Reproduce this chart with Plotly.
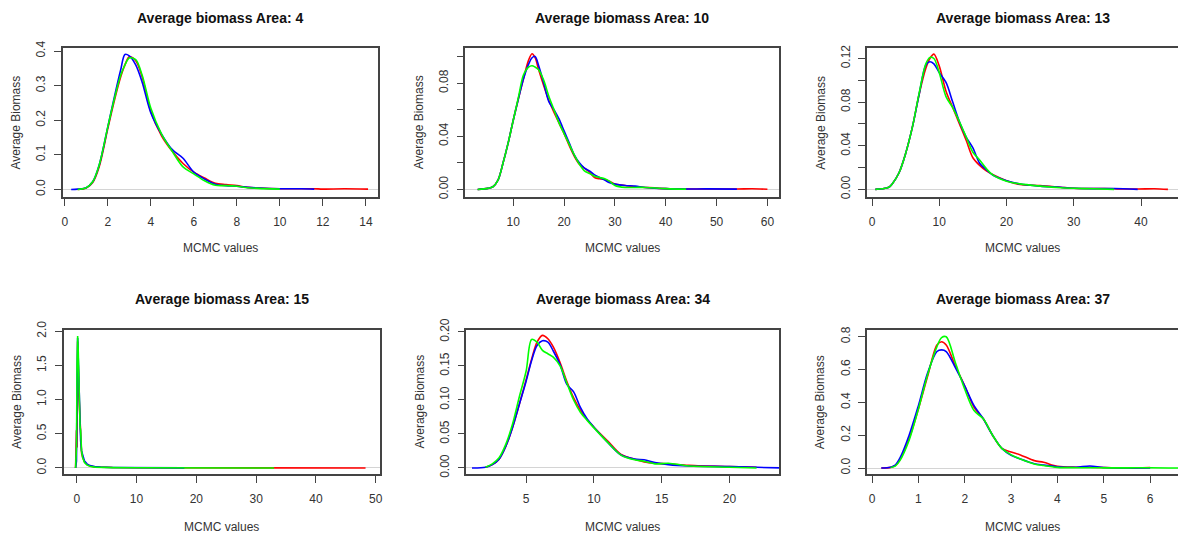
import plotly.graph_objects as go

# ---------------- DATA ----------------
titles = ["Average biomass Area: 4", "Average biomass Area: 10", "Average biomass Area: 13",
          "Average biomass Area: 15", "Average biomass Area: 34", "Average biomass Area: 37"]
x_label = "MCMC values"
y_label = "Average Biomass"

# Area 4
a4_x = [0.3, 0.6, 1.0, 1.3, 1.6, 2.0, 2.3, 2.6, 2.8, 3.0, 3.3, 3.6, 4.0, 4.5, 5.0, 5.5, 6.0, 6.5, 7.0, 7.5,
        8.0, 8.5, 9.0, 10.0, 11.0, 11.6, 12.0, 13.0, 14.1]
a4_red = [None, 0.0, 0.004, 0.02, 0.065, 0.175, 0.255, 0.325, 0.36, 0.383, 0.372, 0.325, 0.225, 0.155, 0.11,
          0.075, 0.05, 0.033, 0.018, 0.014, 0.011, 0.006, 0.004, 0.002, 0.002, 0.002, 0.001, 0.002, 0.001]
a4_blue = [0.0, 0.001, 0.005, 0.022, 0.07, 0.18, 0.265, 0.345, 0.39, 0.386, 0.36, 0.31, 0.222, 0.16, 0.115,
           0.09, 0.05, 0.03, 0.015, 0.011, 0.009, 0.006, 0.004, 0.002, 0.002, 0.001, None, None, None]
a4_green = [None, 0.0, 0.005, 0.022, 0.07, 0.18, 0.26, 0.33, 0.36, 0.38, 0.375, 0.33, 0.235, 0.16, 0.11,
            0.065, 0.045, 0.025, 0.012, 0.011, 0.009, 0.005, 0.003, 0.001, None, None, None, None, None]

# Area 10
a10_x = [3, 5, 6, 7, 8, 9, 10, 11, 12, 13, 13.7, 14.3, 15, 16, 17, 18, 19, 20, 21, 22, 23, 24, 25, 26, 27,
         28, 29, 30, 32, 34, 36, 40, 44, 48, 54, 57, 60]
a10_red = [0.0, 0.0008, 0.002, 0.007, 0.02, 0.035, 0.052, 0.068, 0.083, 0.097, 0.102, 0.099, 0.09, 0.078,
           0.067, 0.058, 0.05, 0.042, 0.033, 0.025, 0.019, 0.016, 0.013, 0.009, 0.008, 0.0075, 0.006, 0.004,
           0.003, 0.002, 0.0015, 0.0006, 0.0003, 0.0004, 0.0003, 0.0005, 0.0001]
a10_blue = [0.0, 0.0008, 0.002, 0.007, 0.02, 0.035, 0.052, 0.068, 0.083, 0.094, 0.099, 0.1, 0.093, 0.08,
            0.066, 0.06, 0.053, 0.044, 0.035, 0.026, 0.02, 0.016, 0.014, 0.011, 0.009, 0.007, 0.005, 0.004,
            0.003, 0.0025, 0.0015, 0.0006, 0.0003, 0.0004, 0.0002, None, None]
a10_green = [0.0, 0.0008, 0.002, 0.007, 0.02, 0.035, 0.052, 0.069, 0.086, 0.092, 0.093, 0.092, 0.09, 0.082,
             0.07, 0.06, 0.05, 0.042, 0.034, 0.026, 0.019, 0.014, 0.012, 0.01, 0.009, 0.008, 0.006, 0.003,
             0.0015, 0.0015, 0.0015, 0.0006, 0.0002, None, None, None, None]

# Area 13
a13_x = [0.5, 1.5, 2.5, 3, 4, 5, 6, 7, 8, 8.6, 9.2, 10, 11, 12, 13, 14, 15, 16, 17, 18, 20, 22, 25, 28, 30,
         33, 36, 39.5, 42, 44]
a13_red = [0.0, 0.0005, 0.002, 0.005, 0.015, 0.033, 0.057, 0.087, 0.111, 0.12, 0.124, 0.113, 0.09, 0.075,
           0.06, 0.045, 0.029, 0.022, 0.017, 0.0135, 0.008, 0.0045, 0.0035, 0.002, 0.001, 0.0008, 0.0005,
           0.0003, 0.0006, 0.0]
a13_blue = [0.0, 0.0005, 0.002, 0.005, 0.015, 0.033, 0.057, 0.087, 0.114, 0.117, 0.115, 0.107, 0.098, 0.08,
            0.062, 0.048, 0.038, 0.024, 0.018, 0.013, 0.008, 0.005, 0.003, 0.002, 0.001, 0.0007, 0.0008,
            0.0, None, None]
a13_green = [0.0, 0.0005, 0.002, 0.005, 0.015, 0.033, 0.057, 0.088, 0.115, 0.121, 0.12, 0.107, 0.085, 0.075,
             0.062, 0.048, 0.034, 0.027, 0.019, 0.013, 0.0075, 0.005, 0.003, 0.0015, 0.001, 0.0005, 0.0,
             None, None, None]

# Area 15
a15_x = [-0.2, -0.05, 0.05, 0.15, 0.25, 0.35, 0.45, 0.55, 0.65, 0.8, 1.0, 1.3, 1.7, 2.2, 3.0, 4.0, 6.0, 10,
         18, 25, 33, 40, 48.3]
a15_red = [0.0, 0.55, 0.3, 1.85, 1.5, 1.1, 0.9, 0.5, 0.35, 0.22, 0.15, 0.09, 0.05, 0.03, 0.015, 0.01, 0.006,
           0.004, 0.002, 0.001, 0.001, 0.001, 0.0]
a15_blue = [0.0, 0.1, 1.2, 1.9, 1.6, 1.25, 1.0, 0.55, 0.4, 0.25, 0.17, 0.1, 0.06, 0.035, 0.02, 0.012, 0.008,
            0.004, 0.002, None, None, None, None]
a15_green = [0.0, 0.3, 1.5, 1.93, 1.7, 1.2, 1.25, 0.6, 0.55, 0.25, 0.15, 0.08, 0.045, 0.025, 0.012, 0.008,
             0.005, 0.003, 0.001, 0.001, 0.0, None, None]

# Area 34
a34_x = [1.0, 2.0, 2.5, 3.0, 3.5, 4.0, 4.5, 5.0, 5.4, 5.8, 6.2, 6.6, 7.0, 7.5, 8.0, 8.5, 9.0, 9.5, 10.0, 11.0,
         12.0, 13.0, 13.7, 14.5, 15.5, 17.0, 20.0, 22.0, 24.0]
a34_red = [None, 0.001, 0.005, 0.013, 0.032, 0.06, 0.094, 0.13, 0.16, 0.185, 0.195, 0.19, 0.178, 0.155, 0.127,
           0.103, 0.085, 0.071, 0.06, 0.04, 0.02, 0.013, 0.009, 0.007, 0.006, 0.004, 0.002, 0.001, None]
a34_blue = [0.0, 0.001, 0.005, 0.013, 0.032, 0.06, 0.094, 0.128, 0.158, 0.18, 0.187, 0.185, 0.172, 0.152,
            0.123, 0.112, 0.089, 0.072, 0.06, 0.038, 0.019, 0.013, 0.012, 0.008, 0.005, 0.003, 0.002, 0.001, 0.0]
a34_green = [None, 0.001, 0.006, 0.015, 0.035, 0.065, 0.105, 0.143, 0.189, 0.185, 0.173, 0.168, 0.163, 0.15,
             0.125, 0.1, 0.082, 0.07, 0.059, 0.038, 0.019, 0.012, 0.01, 0.006, 0.007, 0.003, 0.001, 0.0, None]

# Area 37
a37_x = [0.2, 0.4, 0.5, 0.6, 0.8, 1.0, 1.2, 1.4, 1.5, 1.6, 1.8, 2.0, 2.2, 2.4, 2.6, 2.8, 3.0, 3.2, 3.5, 3.7,
         4.0, 4.4, 4.7, 5.0, 5.5, 6.0, 6.6]
a37_red = [0.0, 0.004, 0.014, 0.05, 0.18, 0.36, 0.56, 0.75, 0.77, 0.75, 0.62, 0.5, 0.37, 0.3, 0.2, 0.12, 0.098,
           0.08, 0.045, 0.035, 0.01, 0.005, 0.005, 0.003, 0.001, 0.003, None]
a37_blue = [0.0, 0.005, 0.018, 0.06, 0.2, 0.38, 0.58, 0.71, 0.72, 0.71, 0.61, 0.5, 0.38, 0.3, 0.2, 0.12, 0.078,
            0.055, 0.026, 0.018, 0.008, 0.005, 0.012, 0.003, 0.001, 0.0, None]
a37_green = [None, 0.003, 0.012, 0.045, 0.17, 0.36, 0.57, 0.74, 0.795, 0.8, 0.64, 0.48, 0.35, 0.3, 0.2, 0.12,
             0.08, 0.055, 0.025, 0.015, 0.004, 0.002, 0.002, 0.001, 0.001, 0.002, 0.0]

# tick values / labels
a4_xt = [0, 2, 4, 6, 8, 10, 12, 14]
a4_yt = [0.0, 0.1, 0.2, 0.3, 0.4]
a4_ytl = ["0.0", "0.1", "0.2", "0.3", "0.4"]
a10_xt = [10, 20, 30, 40, 50, 60]
a10_yt = [0.0, 0.02, 0.04, 0.06, 0.08, 0.10]
a10_ytl = ["0.00", "", "0.04", "", "0.08", ""]
a13_xt = [0, 10, 20, 30, 40]
a13_yt = [0.0, 0.02, 0.04, 0.06, 0.08, 0.10, 0.12]
a13_ytl = ["0.00", "", "0.04", "", "0.08", "", "0.12"]
a15_xt = [0, 10, 20, 30, 40, 50]
a15_yt = [0.0, 0.5, 1.0, 1.5, 2.0]
a15_ytl = ["0.0", "0.5", "1.0", "1.5", "2.0"]
a34_xt = [5, 10, 15, 20]
a34_yt = [0.0, 0.05, 0.10, 0.15, 0.20]
a34_ytl = ["0.00", "0.05", "0.10", "0.15", "0.20"]
a37_xt = [0, 1, 2, 3, 4, 5, 6]
a37_yt = [0.0, 0.2, 0.4, 0.6, 0.8]
a37_ytl = ["0.0", "0.2", "0.4", "0.6", "0.8"]

# ---------------- LAYOUT / STYLE ----------------
W, H = 1181, 535
colors = {"red": "#FF0000", "blue": "#0000FF", "green": "#00FF00"}
FONT = "Liberation Sans, Arial, Helvetica, sans-serif"

# row geometry in pixels: box top, box bottom, title y, x-label y
rows = [dict(t=37, b=191, title=6, xlab=243),
        dict(t=328, b=476, title=296, xlab=531)]

panels = [
    dict(x=a4_x, ys=[a4_red, a4_blue, a4_green], xt=a4_xt, yt=a4_yt, ytl=a4_ytl, row=0,
         lr=(62, 378), xr=[-0.09, 14.55], yr=[-0.0227, 0.409], shape="spline", mirror=True),
    dict(x=a10_x, ys=[a10_red, a10_blue, a10_green], xt=a10_xt, yt=a10_yt, ytl=a10_ytl, row=0,
         lr=(466, 781), xr=[0.59, 62.35], yr=[-0.0059, 0.1064], shape="spline", mirror=True),
    dict(x=a13_x, ys=[a13_red, a13_blue, a13_green], xt=a13_xt, yt=a13_yt, ytl=a13_ytl, row=0,
         lr=(869, 1181), xr=[-0.74, 45.5], yr=[-0.00726, 0.1297], shape="spline", mirror=False),
    dict(x=a15_x, ys=[a15_red, a15_blue, a15_green], xt=a15_xt, yt=a15_yt, ytl=a15_ytl, row=1,
         lr=(63, 380), xr=[-2.17, 50.67], yr=[-0.0845, 2.014], shape="linear", mirror=True),
    dict(x=a34_x, ys=[a34_red, a34_blue, a34_green], xt=a34_xt, yt=a34_yt, ytl=a34_ytl, row=1,
         lr=(467, 781), xr=[0.59, 23.68], yr=[-0.0085, 0.2026], shape="spline", mirror=True),
    dict(x=a37_x, ys=[a37_red, a37_blue, a37_green], xt=a37_xt, yt=a37_yt, ytl=a37_ytl, row=1,
         lr=(869, 1181), xr=[-0.1075, 6.6], yr=[-0.035, 0.840], shape="spline", mirror=False),
]

fig = go.Figure()
layout = dict(width=W, height=H, margin=dict(l=0, r=0, t=0, b=0), paper_bgcolor="white",
              plot_bgcolor="white", showlegend=False, font=dict(family=FONT, color="#333333", size=12))
annotations = []

for i, p in enumerate(panels):
    k = "" if i == 0 else str(i + 1)
    l, r = p["lr"]
    rw = rows[p["row"]]
    t, b = rw["t"], rw["b"]
    for ys, cname in zip(p["ys"], ["red", "blue", "green"]):
        line = dict(color=colors[cname], width=1.6, shape=p["shape"])
        if p["shape"] == "spline":
            line["smoothing"] = 0.9
        fig.add_trace(go.Scatter(x=p["x"], y=ys, mode="lines", line=line,
                                 xaxis="x" + k, yaxis="y" + k, hoverinfo="skip"))
    layout["xaxis" + k] = dict(domain=[l / W, min(r / W, 1.0)], range=p["xr"], anchor="y" + k,
                               showline=True, mirror=True, linecolor="#444444", linewidth=1.5,
                               ticks="outside", ticklen=7, tickwidth=1, tickcolor="#444444",
                               tickvals=p["xt"], ticktext=[str(v) for v in p["xt"]],
                               showgrid=False, zeroline=False, ticklabelstandoff=6,
                               tickfont=dict(size=12, color="#333333", family=FONT))
    layout["yaxis" + k] = dict(domain=[1 - b / H, 1 - t / H], range=p["yr"], anchor="x" + k,
                               showline=True, mirror=p["mirror"], linecolor="#444444", linewidth=1.5,
                               ticks="outside", ticklen=7, tickwidth=1, tickcolor="#444444",
                               tickvals=p["yt"], ticktext=p["ytl"], tickangle=-90,
                               showgrid=False, zeroline=True, zerolinecolor="#d4d4d4", zerolinewidth=1,
                               ticklabelstandoff=4,
                               tickfont=dict(size=12, color="#333333", family=FONT))
    cx = (l + r) / 2 if r < 1181 else l + 156
    annotations.append(dict(text="<b>" + titles[i] + "</b>", x=cx / W, y=1 - rw["title"] / H,
                            xref="paper", yref="paper", showarrow=False, xanchor="center",
                            yanchor="middle", font=dict(size=14, color="#111111", family=FONT)))
    annotations.append(dict(text=x_label, x=cx / W, y=1 - rw["xlab"] / H, xref="paper", yref="paper",
                            showarrow=False, xanchor="center", yanchor="middle",
                            font=dict(size=12, color="#333333", family=FONT)))
    annotations.append(dict(text=y_label, x=(l - 47) / W, y=1 - ((t + b) / 2) / H, xref="paper",
                            yref="paper", showarrow=False, xanchor="center", yanchor="middle",
                            textangle=-90, font=dict(size=12, color="#333333", family=FONT)))

layout["annotations"] = annotations
fig.update_layout(**layout)
fig.write_html("out.html", config={"displayModeBar": False},
               post_script="document.body.style.margin='0';document.body.style.padding='0';"
                           "document.body.style.overflow='hidden';")
